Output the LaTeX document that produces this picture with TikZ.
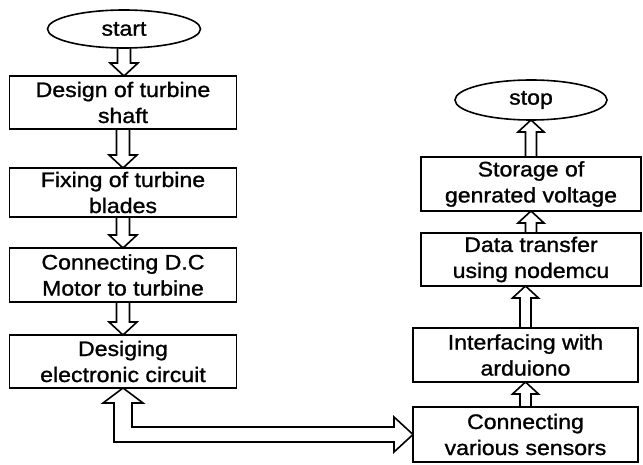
\documentclass[tikz,border=0pt]{standalone}
\usepackage{fontspec}
\setmainfont{Liberation Sans}[FakeStretch=1.1,FakeBold=1.2]
\usetikzlibrary{shapes.geometric,calc}
\tikzset{
  box/.style={draw, line width=1.6pt, inner sep=0pt, outer sep=0pt, align=center,
    font=\fontsize{21}{26}\selectfont},
  term/.style={draw, ellipse, line width=1.6pt, inner sep=0pt, outer sep=0pt,
    font=\fontsize{21}{26}\selectfont},
  flow/.style={draw, line width=1.6pt, line join=miter}
}
\newcommand\arrdn[2]{\draw[flow] let \p1=(#1.south), \p2=(#2.north) in
  (\x1-6.5pt,\y1) -- (\x1-6.5pt,\y2+13pt) -- (\x1-14pt,\y2+13pt) -- (\x1,\y2)
  -- (\x1+14pt,\y2+13pt) -- (\x1+6.5pt,\y2+13pt) -- (\x1+6.5pt,\y1);}
\newcommand\arrup[2]{\draw[flow] let \p1=(#1.north), \p2=(#2.south) in
  (\x1-5.5pt,\y1) -- (\x1-5.5pt,\y2-12pt) -- (\x1-13pt,\y2-12pt) -- (\x1,\y2)
  -- (\x1+13pt,\y2-12pt) -- (\x1+5.5pt,\y2-12pt) -- (\x1+5.5pt,\y1);}
\begin{document}
\begin{tikzpicture}[x=1pt,y=1pt]
\useasboundingbox (0,0) rectangle (643,464);
% left column
\node[term, minimum width=153pt, minimum height=38pt] (start) at (124,435) {start};
\node[box, minimum width=227pt, minimum height=53pt] (b1) at (123,361.5) {Design of turbine\\shaft};
\node[box, minimum width=227pt, minimum height=49pt] (b2) at (123,271.5) {Fixing of turbine\\blades};
\node[box, minimum width=227pt, minimum height=54pt] (b3) at (123,189) {Connecting D.C\\Motor to turbine};
\node[box, minimum width=227pt, minimum height=53pt] (b4) at (123,102.5) {Desiging\\electronic circuit};
% right column
\node[box, minimum width=225pt, minimum height=55pt] (r1) at (525.5,29.5) {Connecting\\various sensors};
\node[box, minimum width=225pt, minimum height=54pt] (r2) at (525.5,109) {Interfacing with\\arduiono};
\node[box, minimum width=220pt, minimum height=53pt] (r3) at (531,204.5) {Data transfer\\using nodemcu};
\node[box, minimum width=220pt, minimum height=54pt] (r4) at (531,280) {Storage of\\genrated voltage};
\node[term, minimum width=152pt, minimum height=40pt] (stop) at (531,364) {stop};
% arrows
\arrdn{start}{b1}
\arrdn{b1}{b2}
\arrdn{b2}{b3}
\arrdn{b3}{b4}
\arrup{r1}{r2}
\arrup{r2}{r3}
\arrup{r3}{r4}
\arrup{r4}{stop}
\draw[flow] let \p1=(b4.south), \p2=(r1.west) in
  (\x1+9pt,\y1-15pt) -- (\x1+20pt,\y1-15pt) -- (\p1) -- (\x1-20pt,\y1-15pt)
  -- (\x1-9pt,\y1-15pt) -- (\x1-9pt,\y2-7.5pt) -- (\x2-19pt,\y2-7.5pt)
  -- (\x2-19pt,\y2-17.5pt) -- (\p2) -- (\x2-19pt,\y2+17.5pt) -- (\x2-19pt,\y2+7.5pt)
  -- (\x1+9pt,\y2+7.5pt) -- cycle;
\end{tikzpicture}
\end{document}
